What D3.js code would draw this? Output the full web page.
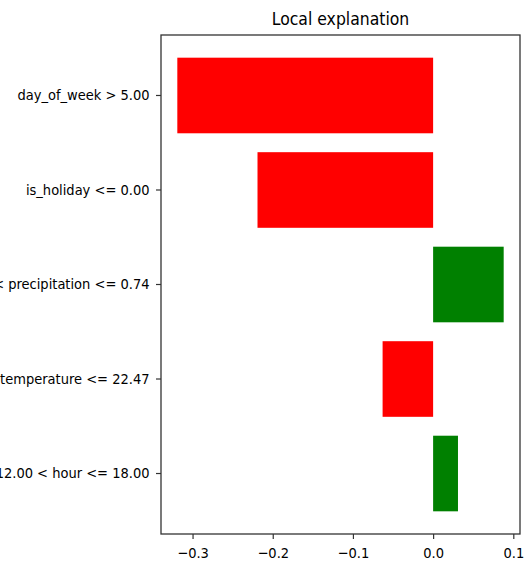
<!DOCTYPE html>
<html>
<head>
<meta charset="utf-8">
<script src="https://cdn.jsdelivr.net/npm/d3@7"></script>
<style>
  body { margin: 0; background: #fff; }
  text { font-family: "DejaVu Sans", sans-serif; fill: #000; }
</style>
</head>
<body>
<div class="canvas"></div>
<script>
// LIME feature conditions, top to bottom
const features = [
    "day_of_week > 5.00",
    "is_holiday <= 0.00",
    "0.00 < precipitation <= 0.74",
    "15.80 < temperature <= 22.47",
    "12.00 < hour <= 18.00"
];
const weights = [-0.319, -0.219, 0.088, -0.063, 0.031];
const xTicks = [-0.3, -0.2, -0.1, 0.0, 0.1];

const dims = { width: 532, height: 562 };
const frame = { left: 161, right: 520, top: 35, bottom: 534 };
const sx = 0.9; // glyphs in the picture are a bit narrow

const svg = d3.select('.canvas')
    .append('svg')
    .attr('width', dims.width)
    .attr('height', dims.height);

// matplotlib style 5% margins
const ext = d3.extent(weights.concat([0]));
const pad = (ext[1] - ext[0]) * 0.05;
const x = d3.scaleLinear()
    .domain([ext[0] - pad, ext[1] + pad])
    .range([frame.left, frame.right]);

// bar height 0.8, plus 5% margins of the 4.8 span at both ends
const y = d3.scaleBand()
    .domain(features)
    .range([frame.top, frame.bottom])
    .paddingInner(0.2)
    .paddingOuter(0.24);

// bars
svg.append('g').selectAll('rect')
    .data(features)
    .enter()
    .append('rect')
      .attr('x', (d, i) => x(Math.min(0, weights[i])))
      .attr('width', (d, i) => Math.abs(x(weights[i]) - x(0)))
      .attr('y', d => y(d))
      .attr('height', y.bandwidth())
      .attr('fill', (d, i) => weights[i] > 0 ? '#008000' : '#ff0000');

// axes
const xAxis = svg.append('g')
    .attr('transform', `translate(0,${frame.bottom})`)
    .call(d3.axisBottom(x)
        .tickValues(xTicks)
        .tickFormat(d => d3.format('.1f')(d).replace('-', '\u2212'))
        .tickSize(5)
        .tickPadding(9));

const yAxis = svg.append('g')
    .attr('transform', `translate(${frame.left},0)`)
    .call(d3.axisLeft(y).tickSize(5).tickPadding(7));

[xAxis, yAxis].forEach(a => {
    a.select('.domain').remove();
    a.selectAll('line').attr('stroke', '#333').attr('stroke-width', 1.2);
    a.selectAll('text')
        .attr('font-size', '14.5px')
        .attr('font-family', '"DejaVu Sans", sans-serif')
        .attr('fill', '#000');
});
xAxis.selectAll('text').attr('transform', `scale(${sx},1)`);
yAxis.selectAll('text')
    .attr('x', -11.5 / sx)
    .attr('transform', `scale(${sx},1)`);

// frame
svg.append('rect')
    .attr('x', frame.left)
    .attr('y', frame.top)
    .attr('width', frame.right - frame.left)
    .attr('height', frame.bottom - frame.top)
    .attr('fill', 'none')
    .attr('stroke', '#333')
    .attr('stroke-width', 1.3);

// title
const cx = (frame.left + frame.right) / 2;
svg.append('text')
    .attr('transform', `translate(${cx},24.5) scale(${sx},1)`)
    .attr('text-anchor', 'middle')
    .attr('font-size', '17.4px')
    .text('Local explanation');
</script>
</body>
</html>
